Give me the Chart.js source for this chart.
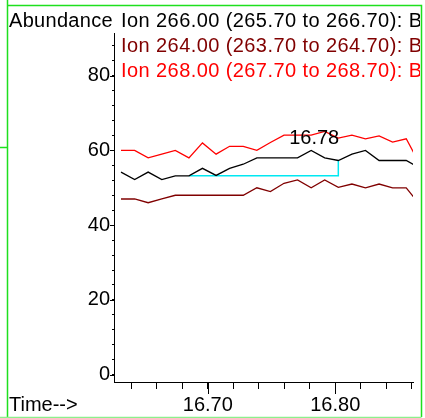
<!DOCTYPE html>
<html>
<head>
<meta charset="utf-8">
<script src="https://cdn.jsdelivr.net/npm/chart.js@4.4.1/dist/chart.umd.min.js"></script>
<style>
  html, body { margin: 0; padding: 0; background: #fff; }
  canvas { display: block; }
</style>
</head>
<body>
<canvas id="myChart" width="425" height="418"></canvas>
<script>
// retention times (min) of the scans shown
const times = [16.6319, 16.6426, 16.6532, 16.6639, 16.6745, 16.6852, 16.6958, 16.7065, 16.7171, 16.7278, 16.7385, 16.7491,
               16.7598, 16.7704, 16.7811, 16.7917, 16.8024, 16.8131, 16.8237, 16.8344, 16.8450, 16.8557, 16.8663];

const ion266 = [54.2, 52.2, 54.2, 52.2, 53.2, 53.2, 55.2, 53.3, 55.2, 56.3, 58.0, 58.0,
                58.0, 58.0, 60.0, 58.0, 57.3, 59.0, 60.0, 57.3, 57.3, 57.3, 55.3];
const ion264 = [47.0, 47.0, 46.0, 47.0, 48.0, 48.0, 48.0, 48.0, 48.0, 48.0, 50.0, 49.0,
                51.2, 52.1, 50.0, 52.1, 50.1, 51.0, 50.0, 51.0, 50.0, 50.0, 45.5];
const ion268 = [60.0, 60.0, 58.0, 59.0, 60.0, 58.0, 62.0, 59.0, 61.1, 61.1, 60.0, 62.1,
                64.1, 64.1, 64.1, 65.1, 63.3, 64.1, 63.1, 63.9, 62.2, 63.1, 56.4];

// integration baseline of the peak
const baseTimes = [16.6852, 16.8024, 16.8024];
const baseValues = [53.2, 53.2, 57.3];

const peakTime = 16.7811;
const peakValue = 60.0;
const peakLabel = "16.78";

const ionLabels = ["Ion 266.00 (265.70 to 266.70): B", "Ion 264.00 (263.70 to 264.70): B", "Ion 268.00 (267.70 to 268.70): B"];
const ionColors = ["#000000", "#800000", "#ff0000"];

const yTickLabels = [0, 20, 40, 60, 80];
const yMinorTicks = [0, 4, 8, 12, 16, 20, 24, 28, 32, 36, 40, 44, 48, 52, 56, 60, 64, 68, 72, 76, 80, 84, 88];
const xTickLabels = [16.70, 16.80];
const xMinorTicks = [16.64, 16.66, 16.68, 16.70, 16.72, 16.74, 16.76, 16.78, 16.80, 16.82, 16.84, 16.86];

const FONT = "'Liberation Sans', Arial, sans-serif";

const toPoints = (xs, ys) => xs.map((x, i) => ({ x: x, y: ys[i] }));

// frame, texts and the long major ticks
const decorations = {
    id: "decorations",
    afterDraw(chart) {
        const c = chart.ctx;
        const xs = chart.scales.x;
        const ys = chart.scales.y;
        c.save();

        // major ticks
        c.strokeStyle = "#000";
        c.lineWidth = 1;
        c.beginPath();
        yTickLabels.forEach(v => {
            const py = Math.round(ys.getPixelForValue(v)) + 0.5;
            c.moveTo(ys.right - 4, py);
            c.lineTo(ys.right, py);
        });
        xTickLabels.forEach(v => {
            const px = Math.round(xs.getPixelForValue(v)) + 0.5;
            c.moveTo(px, xs.top);
            c.lineTo(px, xs.top + 12);
        });
        c.stroke();

        // peak label
        c.font = "20px " + FONT;
        c.fillStyle = "#000";
        c.textAlign = "center";
        c.textBaseline = "alphabetic";
        c.fillText(peakLabel, xs.getPixelForValue(peakTime) + 3, ys.getPixelForValue(peakValue) - 6);

        // axis titles
        c.textAlign = "left";
        c.fillText("Time-->", 9, 411);
        c.letterSpacing = "0.3px";
        c.fillText("Abundance", 9, 27);

        // ion labels, cut by the frame
        c.save();
        c.beginPath();
        c.rect(0, 0, 420, 418);
        c.clip();
        c.letterSpacing = "0.42px";
        ionLabels.forEach((t, i) => {
            c.fillStyle = ionColors[i];
            c.fillText(t, 121, 27 + i * 25);
        });
        c.restore();
        c.letterSpacing = "0px";

        // green frame
        c.strokeStyle = "#1ee01e";
        c.lineWidth = 1.5;
        c.beginPath();
        c.moveTo(7.5, 0);
        c.lineTo(7.5, 418);
        c.moveTo(7.5, 5.5);
        c.lineTo(421.5, 5.5);
        c.lineTo(421.5, 417);
        c.moveTo(0, 147.5);
        c.lineTo(7.5, 147.5);
        c.stroke();
        c.strokeStyle = "#8cf08c";
        c.beginPath();
        c.moveTo(0, 417.5);
        c.lineTo(421.5, 417.5);
        c.stroke();

        c.restore();
    }
};

const ctx = document.getElementById("myChart");

new Chart(ctx, {
    type: "line",
    data: {
        datasets: [
            {
                label: "Ion 266.00",
                data: toPoints(times, ion266),
                borderColor: "#000000",
                borderWidth: 1.3
            },
            {
                label: "baseline",
                data: toPoints(baseTimes, baseValues),
                borderColor: "#00e8f2",
                borderWidth: 1.5
            },
            {
                label: "Ion 264.00",
                data: toPoints(times, ion264),
                borderColor: "#800000",
                borderWidth: 1.3
            },
            {
                label: "Ion 268.00",
                data: toPoints(times, ion268),
                borderColor: "#ff0000",
                borderWidth: 1.3
            }
        ]
    },
    options: {
        responsive: false,
        animation: false,
        devicePixelRatio: 1,
        elements: { point: { radius: 0 }, line: { tension: 0 } },
        layout: { padding: { left: 14, top: 33, right: 12, bottom: 0 } },
        plugins: {
            legend: { display: false },
            tooltip: { enabled: false }
        },
        scales: {
            x: {
                type: "linear",
                min: 16.6264,
                max: 16.861,
                afterBuildTicks: s => { s.ticks = xMinorTicks.map(v => ({ value: v })); },
                afterFit: s => { s.height = 36; },
                ticks: {
                    autoSkip: false,
                    maxRotation: 0,
                    padding: 4,
                    color: "#000",
                    font: { family: FONT, size: 20 },
                    callback: v => {
                        const t = xTickLabels.find(l => Math.abs(l - v) < 1e-6);
                        return t === undefined ? "" : t.toFixed(2);
                    }
                },
                grid: { drawOnChartArea: false, tickLength: 7, tickColor: "#000" },
                border: { color: "#000", width: 1 }
            },
            y: {
                min: -1.95,
                max: 91.4,
                afterBuildTicks: s => { s.ticks = yMinorTicks.map(v => ({ value: v })); },
                afterFit: s => { s.width = 100; },
                ticks: {
                    autoSkip: false,
                    padding: 2,
                    color: "#000",
                    font: { family: FONT, size: 20 },
                    callback: v => yTickLabels.includes(v) ? String(v) : ""
                },
                grid: { drawOnChartArea: false, tickLength: 2, tickColor: "#000" },
                border: { color: "#000", width: 1 }
            }
        }
    },
    plugins: [decorations]
});
</script>
</body>
</html>
